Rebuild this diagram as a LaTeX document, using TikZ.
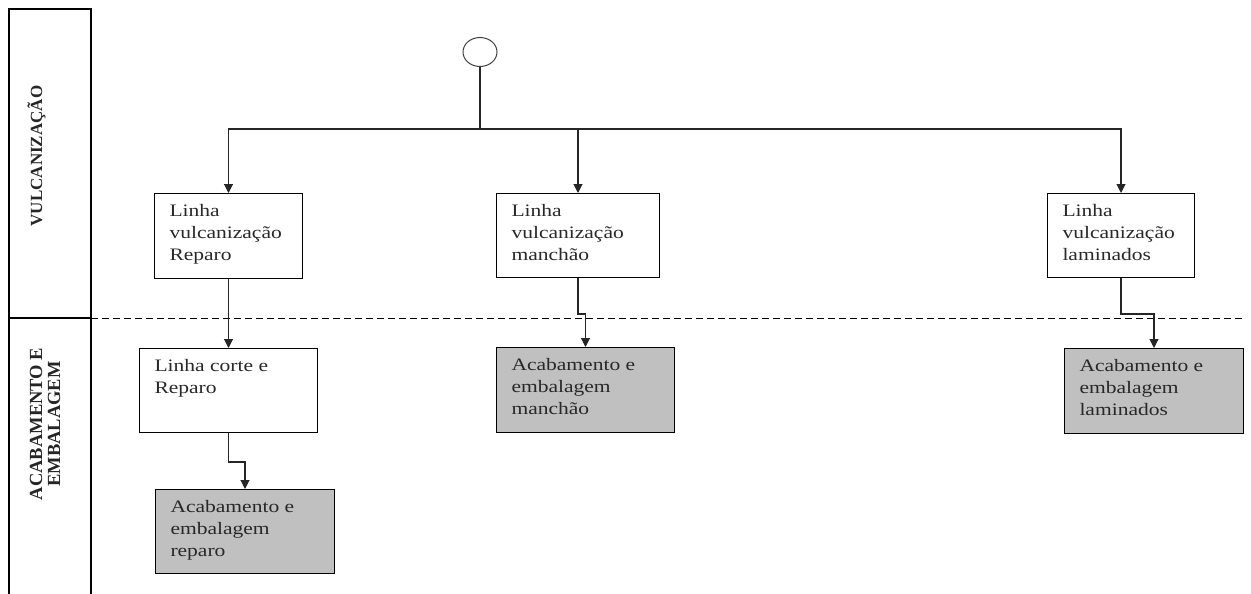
\documentclass[tikz,border=0pt]{standalone}
\usepackage{fontspec}
\setmainfont{Liberation Serif}
\newfontfamily\boxfont{Liberation Serif}[FakeStretch=1.23]
\usetikzlibrary{arrows.meta,shapes.geometric}
\definecolor{boxgray}{RGB}{192,192,192}
\definecolor{txt}{RGB}{40,40,40}
\newcommand\boxtext[3]{\parbox[c][#2][t]{#1}{\raggedright #3}}
\tikzset{
  proc/.style={draw=black, line width=1pt, rectangle, inner xsep=15pt, inner ysep=11pt,
    anchor=north west, text=txt, font=\boxfont\fontsize{17.5}{21.7}\selectfont},
  grey/.style={proc, fill=boxgray},
  conn/.style={draw=black!85, line width=1.1pt},
  arr/.style={conn, -{Triangle[width=9pt,length=9pt]}},
  lane/.style={draw=black, line width=1.1pt},
  lanetitle/.style={rotate=90, text=black!85, inner sep=0pt, anchor=base},
}
\begin{document}
\begin{tikzpicture}[x=1pt,y=-1pt]
\useasboundingbox (0,0) rectangle (1251,594);
% lane frame
\draw[lane] (9,594) -- (9,9) -- (91,9) -- (91,594);
\draw[lane] (9,318) -- (91,318);
\draw[draw=black, line width=1pt, dash pattern=on 7pt off 4pt] (91,318) -- (1245,318);
\node[lanetitle, font=\bfseries\fontsize{17}{20}\selectfont] (lv) at (42,156) {VULCANIZAÇÃO};
\node[lanetitle, font=\bfseries\fontsize{18.5}{20}\selectfont] (la1) at (42,424) {ACABAMENTO E};
\node[lanetitle, font=\bfseries\fontsize{18.5}{20}\selectfont] (la2) at (60,424) {EMBALAGEM};
% start
\node[draw=black!75, line width=1pt, ellipse, minimum width=34pt, minimum height=29pt, inner sep=0pt] (start) at (480,52) {};
\coordinate (j) at (480,129);
% boxes
\node[proc] (b1) at (154,193) {\boxtext{118pt}{63pt}{Linha\\vulcanização\\Reparo}};
\node[proc] (b2) at (496,193) {\boxtext{133pt}{62pt}{Linha\\vulcanização\\manchão}};
\node[proc] (b3) at (1047,193) {\boxtext{117pt}{62pt}{Linha\\vulcanização\\laminados}};
\node[proc] (c1) at (139,348) {\boxtext{148pt}{62pt}{Linha corte e\\Reparo}};
\node[grey] (g1) at (155,489) {\boxtext{149pt}{62pt}{Acabamento e\\embalagem\\reparo}};
\node[grey] (g2) at (496,347) {\boxtext{148pt}{63pt}{Acabamento e\\embalagem\\manchão}};
\node[grey] (g3) at (1064,348) {\boxtext{149pt}{63pt}{Acabamento e\\embalagem\\laminados}};
% connectors
\draw[conn] (start) -- (j);
\draw[arr] (j) -| (b1.north);
\draw[arr] (j) -| (b2.north);
\draw[arr] (j) -| (b3.north);
\draw[arr] (b1.south) -- (c1.north);
\draw[arr] (c1.south) -- ++(0,29) -| (g1.north);
\draw[arr] (b2.south) -- ++(0,36) -| (g2.north);
\draw[arr] (b3.south) -- ++(0,36) -| (g3.north);
\end{tikzpicture}
\end{document}
